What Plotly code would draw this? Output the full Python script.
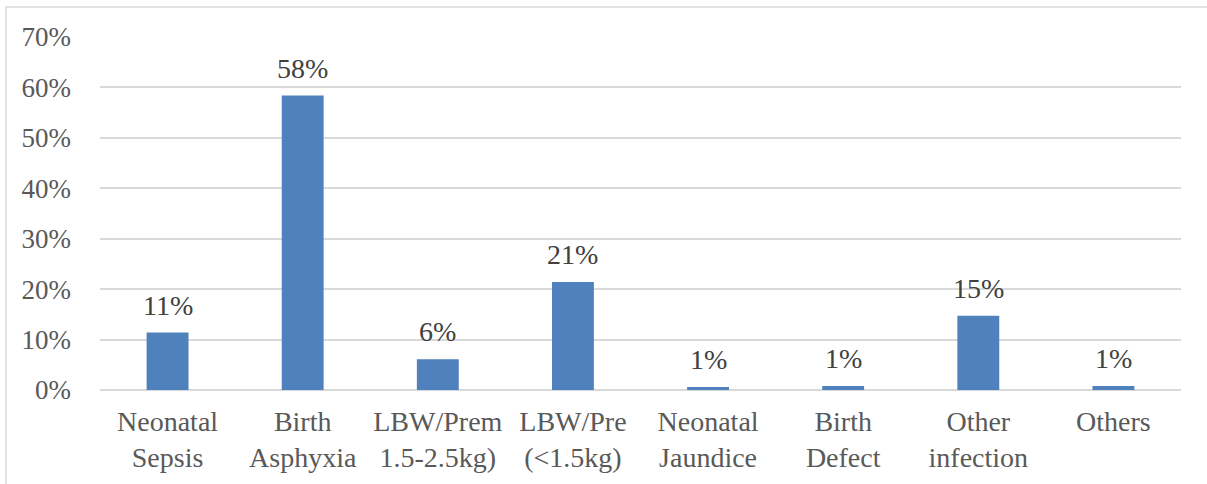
import plotly.graph_objects as go

categories = ["Neonatal<br>Sepsis", "Birth<br>Asphyxia", "LBW/Prem<br>1.5-2.5kg)",
              "LBW/Pre<br>(&lt;1.5kg)", "Neonatal<br>Jaundice", "Birth<br>Defect",
              "Other<br>infection", "Others"]
values = [0.114, 0.584, 0.061, 0.214, 0.006, 0.008, 0.147, 0.008]
labels = ["11%", "58%", "6%", "21%", "1%", "1%", "15%", "1%"]
yticks = [0, 0.1, 0.2, 0.3, 0.4, 0.5, 0.6, 0.7]

FONT = "Times New Roman, Liberation Serif, serif"
fig = go.Figure()
fig.add_trace(go.Bar(x=categories, y=values, marker=dict(color="#4F81BD", line=dict(width=0)),
                     hoverinfo="skip"))

for c, v, t in zip(categories, values, labels):
    fig.add_annotation(x=c, y=v, text=t, showarrow=False, yanchor="bottom", yshift=10,
                       font=dict(family=FONT, size=28, color="#404040"))

fig.update_layout(
    width=1207, height=484,
    margin=dict(l=100, r=26, t=37, b=94),
    paper_bgcolor="white", plot_bgcolor="white",
    bargap=0.69, showlegend=False,
    font=dict(family=FONT, size=28, color="#595959"),
    xaxis=dict(showgrid=False, showline=False, zeroline=False, ticks="",
               ticklabelstandoff=12, tickfont=dict(family=FONT, size=28, color="#595959")),
    yaxis=dict(range=[0, 0.7], tickvals=yticks, tickformat=".0%", showgrid=True,
               gridcolor="#D9D9D9", gridwidth=1.5, zeroline=True, zerolinecolor="#D9D9D9",
               zerolinewidth=1.5, showline=False, ticks="", ticklabelstandoff=28,
               tickfont=dict(family=FONT, size=27, color="#595959")),
    shapes=[dict(type="path", xref="paper", yref="paper",
                 path="M -0.087,-0.27 L -0.087,1.085 L 1.03,1.085",
                 line=dict(color="#D9D9D9", width=1.5))],
)

fig.write_html("out.html", config={"displayModeBar": False},
               post_script="document.body.style.margin='0px';")
